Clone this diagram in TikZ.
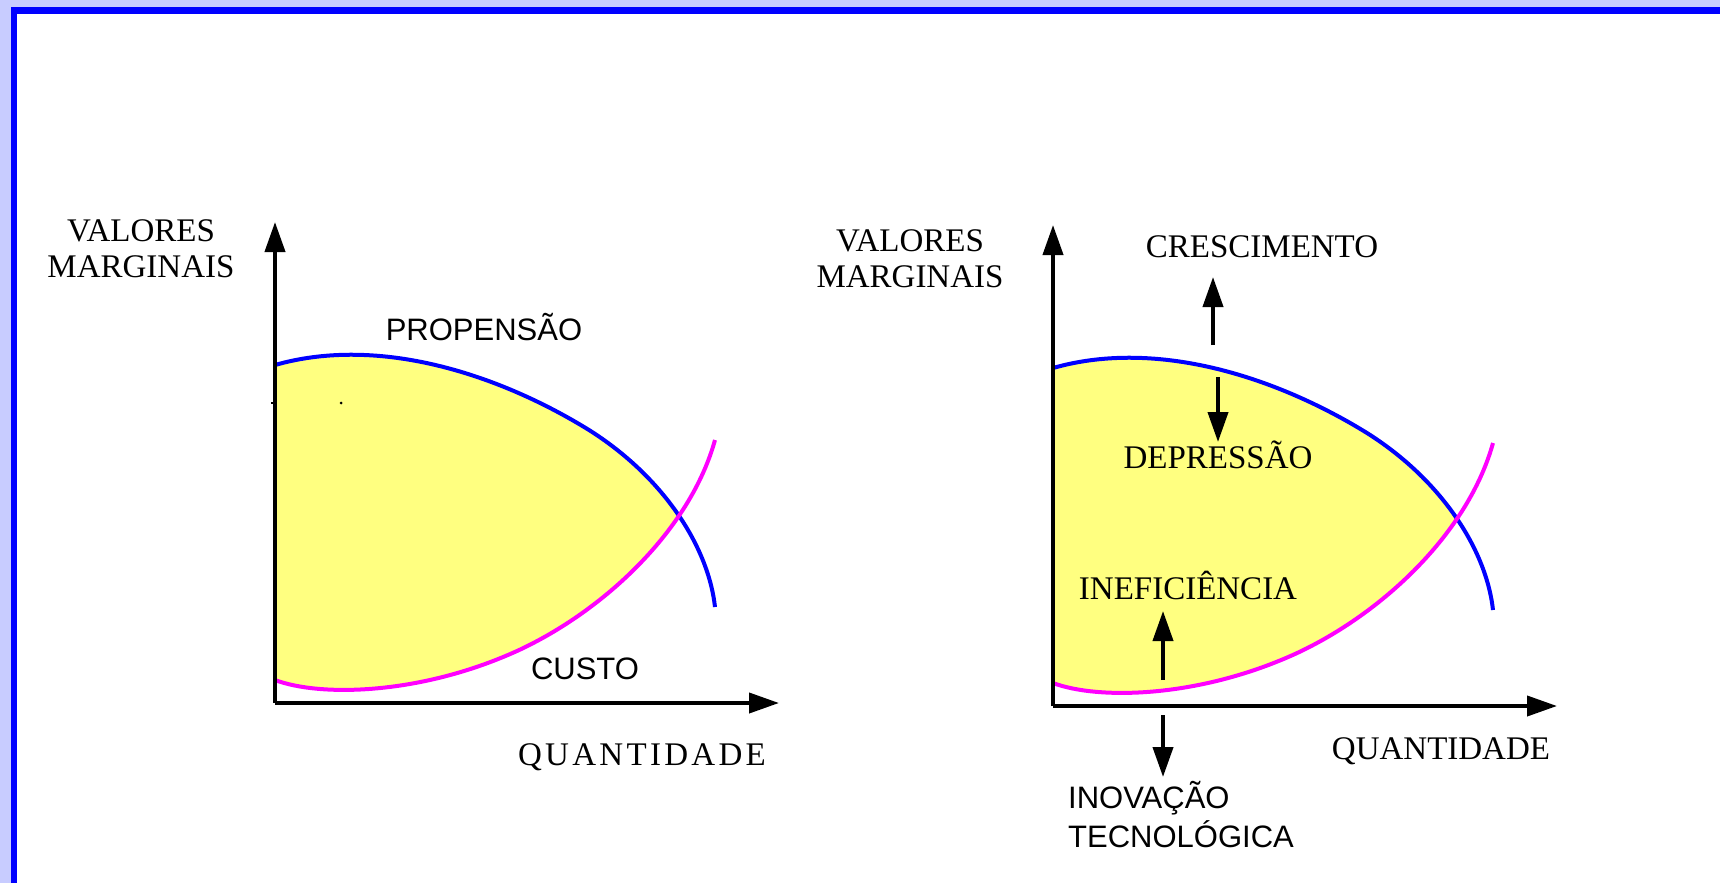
\documentclass[tikz,border=0pt]{standalone}
\usepackage{fontspec}
\setmainfont{Liberation Serif}
\newfontfamily\sansf{Liberation Sans}
\usetikzlibrary{arrows.meta}
\definecolor{fillyellow}{HTML}{FFFF80}
\definecolor{frameblue}{HTML}{0000FF}
\definecolor{paleblue}{HTML}{C8CCFF}
\definecolor{curveblue}{HTML}{0000FF}
\definecolor{curvepink}{HTML}{FF00FF}
\tikzset{
  axisline/.style={line width=4pt, -{Triangle[length=30pt,width=20pt]}},
  smallarrow/.style={line width=4pt, -{Triangle[length=30pt,width=20pt]}},
  bluecurve/.style={curveblue, line width=4pt},
  pinkcurve/.style={curvepink, line width=4pt},
  seriflabel/.style={font=\fontsize{33}{36}\selectfont, inner sep=0pt, align=center},
  sanslabel/.style={font=\sansf\fontsize{31}{39}\selectfont, inner sep=0pt, align=left},
}
\newcommand\chartbase[1]{%
  \begin{scope}
    \clip (275,680) .. controls (320,697) and (420,695) .. (517,651)
          .. controls (604,611) and (690,530) .. (715,440)
          -- (715,0) -- (275,0) -- cycle;
    \fill[fillyellow] (275,365) .. controls (380,335) and (500,375) .. (589,430)
          .. controls (662,476) and (708,545) .. (715,607)
          -- (715,703) -- (275,703) -- cycle;
  \end{scope}
  \draw[bluecurve] (275,365) .. controls (380,335) and (500,375) .. (589,430)
          .. controls (662,476) and (708,545) .. (715,607);
  \draw[pinkcurve] (275,680) .. controls (320,697) and (420,695) .. (517,651)
          .. controls (604,611) and (690,530) .. (715,440);
  \coordinate (o#1) at (275,703);
  \coordinate (ytop#1) at (275,222);
  \coordinate (xend#1) at (779,703);
  \draw[axisline] (o#1) -- (ytop#1);
  \draw[axisline] (o#1) -- (xend#1);
}
\begin{document}
\begin{tikzpicture}[x=1pt,y=-1pt]
  \useasboundingbox (0,0) rectangle (1720,883);
  % frame
  \fill[paleblue] (0,0) rectangle (1720,7);
  \fill[paleblue] (0,0) rectangle (11,883);
  \fill[frameblue] (11,7) rectangle (1720,14);
  \fill[frameblue] (11,7) rectangle (17,883);

  % left chart
  \chartbase{L}
  \fill (341,403) circle (1.5pt);
  \draw[line width=1.5pt] (271,403) -- (276,403);
  \node[seriflabel] (vmL) at (141,249) {VALORES\\MARGINAIS};
  \node[sanslabel] (prop) at (484,327) {PROPENSÃO};
  \node[sanslabel] (custo) at (585,669) {CUSTO};
  \node[seriflabel, font=\fontsize{33}{36}\selectfont\addfontfeature{LetterSpace=10}] (qL) at (642,757) {QUANTIDADE};

  % right chart
  \begin{scope}[shift={(778,3)}]
    \chartbase{R}
  \end{scope}
  \node[seriflabel] (vmR) at (910,259) {VALORES\\MARGINAIS};
  \node[seriflabel] (cresc) at (1262,247) {CRESCIMENTO};
  \node[seriflabel] (depr) at (1218,455) {DEPRESSÃO};
  \node[seriflabel] (inef) at (1188,585) {INEFICIÊNCIA};
  \node[seriflabel] (qR) at (1441,751) {QUANTIDADE};
  \node[sanslabel, anchor=west] (inov) at (1068,815) {INOVAÇÃO\\TECNOLÓGICA};

  \coordinate (c1s) at (1213,345);
  \coordinate (c1e) at (1213,277);
  \coordinate (d1s) at (1218,377);
  \coordinate (d1e) at (1218,442);
  \coordinate (i1s) at (1163,680);
  \coordinate (i1e) at (1163,611);
  \coordinate (n1s) at (1163,715);
  \coordinate (n1e) at (1163,777);
  \draw[smallarrow] (c1s) -- (c1e);
  \draw[smallarrow] (d1s) -- (d1e);
  \draw[smallarrow] (i1s) -- (i1e);
  \draw[smallarrow] (n1s) -- (n1e);
\end{tikzpicture}
\end{document}
